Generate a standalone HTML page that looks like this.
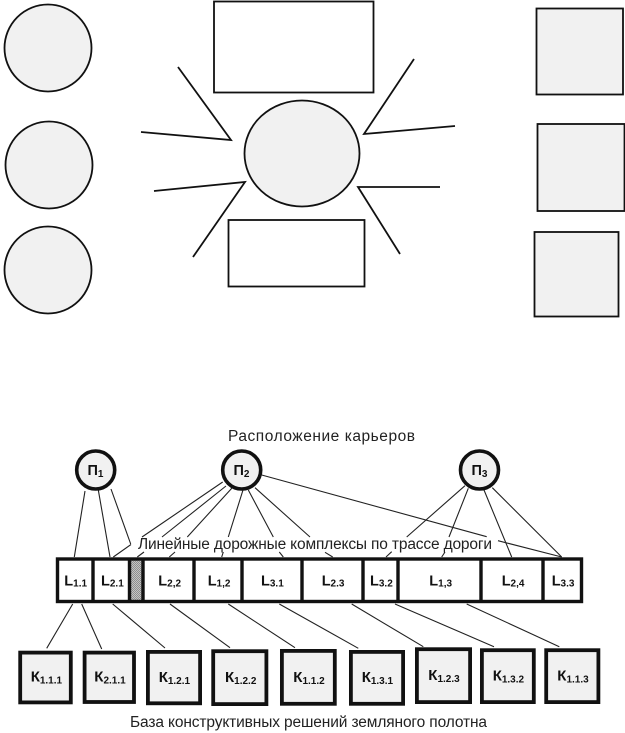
<!DOCTYPE html>
<html><head><meta charset="utf-8"><style>
html,body{margin:0;padding:0;background:#fff}
svg{display:block;filter:blur(0.35px)}
text{font-family:"Liberation Sans",sans-serif;fill:#111}
.t{font-size:15.5px;fill:#222}
.l{font-size:14.5px;font-weight:bold}
.k{font-size:15px;font-weight:bold}
.s{font-size:10px}
</style></head><body>
<svg width="625" height="733" viewBox="0 0 625 733" xmlns="http://www.w3.org/2000/svg">
<defs><pattern id="h" width="2" height="2" patternUnits="userSpaceOnUse"><rect width="2" height="2" fill="#c4c4c4"/><rect width="1" height="1" fill="#8e8e8e"/><rect x="1" y="1" width="1" height="1" fill="#8e8e8e"/></pattern></defs>
<g fill="#f1f1f1" stroke="#111" stroke-width="1.8">
<circle cx="48" cy="48" r="43.5"/><circle cx="49" cy="165" r="43.5"/><circle cx="48" cy="270" r="43.5"/>
<ellipse cx="302" cy="153.5" rx="57.5" ry="53"/>
<rect x="536.5" y="8.5" width="86.5" height="86"/><rect x="537.5" y="124" width="87" height="87"/><rect x="534.5" y="232" width="84" height="84.5"/>
</g>
<g fill="none" stroke="#111" stroke-width="1.8">
<rect x="214" y="1.5" width="159.5" height="91"/><rect x="228.5" y="220" width="136" height="66.5"/>
<path d="M178 67L231 140L141 132M154 191L245 182L193 257M414 59L364 134L455 126M440 187H358L400 254"/>
</g>
<g fill="none" stroke="#222" stroke-width="1.1">
<path d="M85 491L74.3 557M98.3 490L110 557M111 489L130.7 544"/>
<path d="M222.7 482L142 537M131 544.5L113.3 557M226 486L162 537M144 552L137.3 557M232 488L187.3 537M175 552L169.3 557M243 490L228.3 537M223.3 552L221.7 557M248.3 490L273.3 537M279.3 552L283.3 557M255 487.7L310 537M325 552.3L332.7 557"/>
<path d="M261.7 475L486.7 536.7M498 540.7L561.7 557"/>
<path d="M465 485.7L406.7 537M391.7 551.7L386 557M468.3 488.3L449 537M445 552L441.7 557M484 490L511.7 557M492.3 487.7L561.7 557"/>
<path d="M72.7 604L46.7 648.3M81.7 604L101.7 649M112.7 604L165 648M170 604L230 647.7M228.3 604L295 647.7M279.3 604L358.3 648.3M351.7 604L423.3 646.7M395 604L494 646.7M466.7 604L559.3 646.7"/>
</g>
<g fill="#f1f1f1" stroke="#111" stroke-width="3.6">
<circle cx="95.7" cy="470" r="19"/><circle cx="241.7" cy="470" r="19"/><circle cx="479.5" cy="470" r="19"/>
</g>
<rect x="57.5" y="559" width="524" height="42.5" fill="#fff"/>
<rect x="130" y="559" width="13" height="42.5" fill="url(#h)"/>
<g fill="none" stroke="#111" stroke-width="3.4">
<rect x="57.5" y="559" width="524" height="42.5"/>
<path d="M93 559V601.5M129.5 559V601.5M143 559V601.5M194 559V601.5M242 559V601.5M302 559V601.5M363 559V601.5M398 559V601.5M481 559V601.5M543 559V601.5"/>
</g>
<g fill="#f1f1f1" stroke="#111" stroke-width="3.8">
<rect x="20.2" y="652.6" width="50.6" height="49.8"/>
<rect x="84.6" y="652.6" width="49.4" height="49.4"/>
<rect x="147.9" y="651.9" width="52.2" height="51.4"/>
<rect x="213.2" y="651.2" width="53.2" height="52.9"/>
<rect x="281.9" y="650.9" width="52.9" height="52.9"/>
<rect x="350.9" y="651.9" width="52.2" height="51.9"/>
<rect x="416.9" y="649.2" width="53.2" height="52.9"/>
<rect x="481.9" y="650.2" width="51.9" height="51.9"/>
<rect x="546.2" y="650.2" width="52.2" height="51.9"/>
</g>
<text class="t" x="228" y="441" textLength="187" lengthAdjust="spacing">Расположение карьеров</text>
<text class="t" x="138" y="549" textLength="354" lengthAdjust="spacing">Линейные дорожные комплексы по трассе дороги</text>
<text class="t" x="130" y="727" textLength="357" lengthAdjust="spacing">База конструктивных решений земляного полотна</text>
<text class="l" x="87.5" y="475">П<tspan class="s" dy="2">1</tspan></text>
<text class="l" x="233.5" y="475">П<tspan class="s" dy="2">2</tspan></text>
<text class="l" x="471.5" y="475">П<tspan class="s" dy="2">3</tspan></text>
<text class="l" x="64.3" y="585.5">L<tspan class="s" dy="1">1.1</tspan></text>
<text class="l" x="101" y="585.5">L<tspan class="s" dy="1">2.1</tspan></text>
<text class="l" x="158.3" y="585.5">L<tspan class="s" dy="1">2,2</tspan></text>
<text class="l" x="207.7" y="585.5">L<tspan class="s" dy="1">1,2</tspan></text>
<text class="l" x="261" y="585.5">L<tspan class="s" dy="1">3.1</tspan></text>
<text class="l" x="321.7" y="585.5">L<tspan class="s" dy="1">2.3</tspan></text>
<text class="l" x="370" y="585.5">L<tspan class="s" dy="1">3.2</tspan></text>
<text class="l" x="429.3" y="585.5">L<tspan class="s" dy="1">1,3</tspan></text>
<text class="l" x="501.7" y="585.5">L<tspan class="s" dy="1">2,4</tspan></text>
<text class="l" x="551.7" y="585.5">L<tspan class="s" dy="1">3.3</tspan></text>
<text class="k" x="30.7" y="681.7">К<tspan class="s" dy="2">1.1.1</tspan></text>
<text class="k" x="94.3" y="681.7">К<tspan class="s" dy="2">2.1.1</tspan></text>
<text class="k" x="158.7" y="682">К<tspan class="s" dy="2">1.2.1</tspan></text>
<text class="k" x="225" y="682">К<tspan class="s" dy="2">1.2.2</tspan></text>
<text class="k" x="293.3" y="682">К<tspan class="s" dy="2">1.1.2</tspan></text>
<text class="k" x="361.7" y="682">К<tspan class="s" dy="2">1.3.1</tspan></text>
<text class="k" x="428.3" y="680">К<tspan class="s" dy="2">1.2.3</tspan></text>
<text class="k" x="492.7" y="680.7">К<tspan class="s" dy="2">1.3.2</tspan></text>
<text class="k" x="557.3" y="680.7">К<tspan class="s" dy="2">1.1.3</tspan></text>
</svg>
</body></html>
